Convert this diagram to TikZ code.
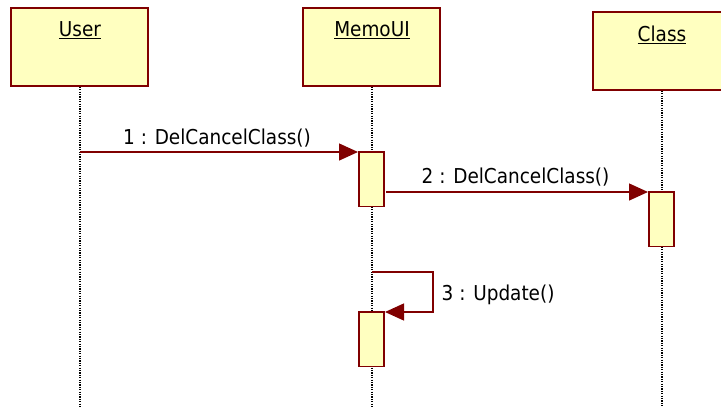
\documentclass[tikz,border=0pt]{standalone}
\usepackage{fontspec}
\setmainfont{DejaVu Sans Condensed}
\usetikzlibrary{arrows.meta}
\definecolor{umlred}{RGB}{128,0,0}
\definecolor{umlfill}{RGB}{255,255,192}
\tikzset{
  objbox/.style={draw=umlred, fill=umlfill, line width=1.8pt, minimum width=137pt, minimum height=78pt, anchor=north west, inner sep=0pt},
  actbox/.style={draw=umlred, fill=umlfill, line width=1.5pt, minimum width=25pt, minimum height=54.5pt, anchor=north west, inner sep=0pt},
  objlbl/.style={font=\fontsize{20.5}{22}\selectfont, anchor=base, inner sep=0pt},
  msglbl/.style={font=\fontsize{20.5}{22}\selectfont, anchor=base west, inner sep=0pt},
  lifeline/.style={black, line width=1.2pt, dash pattern=on 1.2pt off 1.2pt},
  msg/.style={draw=umlred, line width=1.4pt, -{Triangle[length=19pt,width=17pt]}},
}
\begin{document}
\begin{tikzpicture}[x=1pt,y=-1pt]
\useasboundingbox (0,0) rectangle (721,407);
\clip (0,0) rectangle (721,407);
% objects and lifelines
\coordinate (userbot) at (80,407);
\coordinate (memobot) at (372,407);
\coordinate (classbot) at (662,407);
\node[objbox] (user) at (10,7) {};
\node[objbox] (memo) at (302,7) {};
\node[objbox] (class) at (592,11) {};
\draw[lifeline] (user.south -| userbot) -- (userbot);
\draw[lifeline] (memo.south -| memobot) -- (memobot);
\draw[lifeline] (class.south -| classbot) -- (classbot);
\node[objlbl] (userl) at (80,36.5) {\underline{User}};
\node[objlbl] (memol) at (372,36.5) {\underline{MemoUI}};
\node[objlbl] (classl) at (662,41.5) {\underline{Class}};
% activations
\node[actbox] (a1) at (358,151) {};
\node[actbox] (a2) at (648,191) {};
\node[actbox] (a3) at (358,311) {};
% messages
\coordinate (m1start) at (80,152);
\draw[msg] (m1start) -- (a1.west |- m1start);
\coordinate (m2start) at (386,192);
\draw[msg] (m2start) -- (a2.west |- m2start);
\coordinate (m3start) at (372,272);
\coordinate (m3c1) at (433,272);
\coordinate (m3c2) at (433,312);
\coordinate (m3end) at (385,312);
\draw[msg] (m3start) -- (m3c1) -- (m3c2) -- (m3end);
% labels
\node[msglbl] (l1) at (123,144) {1 : DelCancelClass()};
\node[msglbl] (l2) at (421.5,183.3) {2 : DelCancelClass()};
\node[msglbl] (l3) at (441.5,300.5) {3 : Update()};
\end{tikzpicture}
\end{document}
